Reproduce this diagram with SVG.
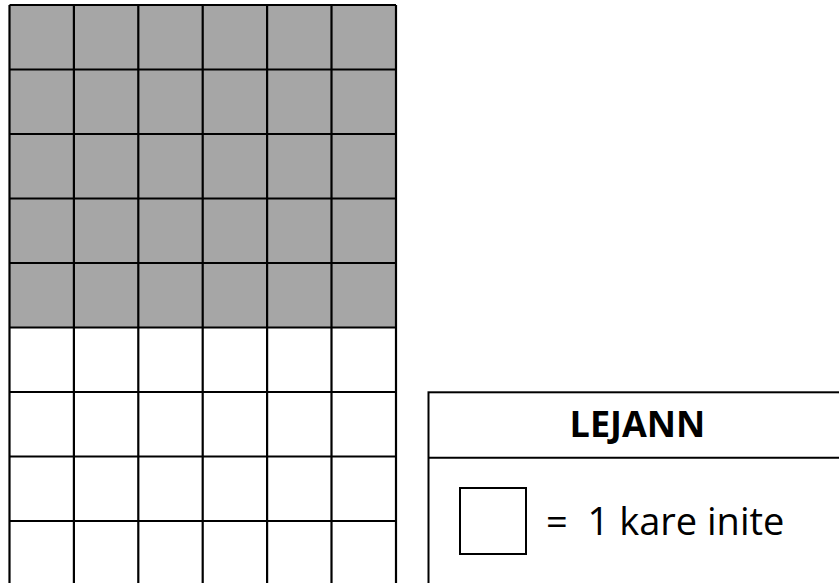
<svg xmlns="http://www.w3.org/2000/svg" width="839" height="583" viewBox="0 0 839 583">
<style>
.grid{stroke:#000;stroke-width:2.2;fill:none}
.lg{stroke:#000;stroke-width:2;fill:#fff}
.t{font-family:"Open Sans","Noto Sans",sans-serif;fill:#000}
</style>
<rect width="839" height="583" fill="#fff"/>
<g id="grid">
<rect x="9.5" y="5" width="386.5" height="322.5" fill="#a6a6a6"/>
<path class="grid" d="M9.5 5V590M73.9 5V590M138.3 5V590M202.7 5V590M267.1 5V590M331.5 5V590M396 5V590M9.5 5H396M9.5 69.5H396M9.5 134H396M9.5 198.5H396M9.5 263H396M9.5 327.5H396M9.5 392H396M9.5 456.5H396M9.5 521H396"/>
</g>
<g id="legend">
<rect class="lg" x="428.5" y="392.3" width="420" height="200"/>
<line x1="428.5" y1="457.7" x2="848" y2="457.7" stroke="#000" stroke-width="2"/>
<text class="t" x="637.5" y="437.3" font-size="36" font-weight="bold" text-anchor="middle">LEJANN</text>
<rect class="lg" x="460" y="488" width="66" height="66"/>
<text class="t" x="546" y="535" font-size="38" xml:space="preserve"><tspan>= </tspan><tspan dx="10">1 kare inite</tspan></text>
</g>
</svg>
